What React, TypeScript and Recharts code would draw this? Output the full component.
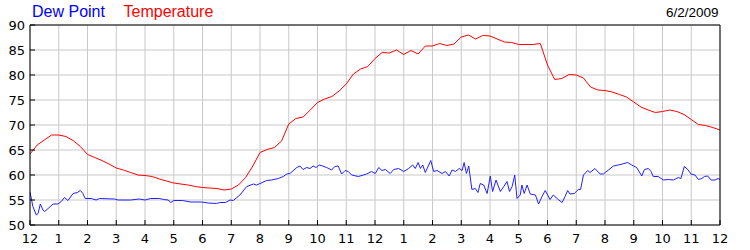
import React from 'react'
import { LineChart, Line, XAxis, YAxis, CartesianGrid } from 'recharts'

// hours since midnight, one tick per hour
const hourTicks = [0, 1, 2, 3, 4, 5, 6, 7, 8, 9, 10, 11, 12, 13, 14, 15, 16, 17, 18, 19, 20, 21, 22, 23, 24]
const hourLabels = ['12', '1', '2', '3', '4', '5', '6', '7', '8', '9', '10', '11', '12', '1', '2', '3', '4', '5', '6', '7', '8', '9', '10', '11', '12']
const degreeTicks = [50, 55, 60, 65, 70, 75, 80, 85, 90]

const chartDate = '6/2/2009'

// temperature, one reading every 15 minutes from midnight to midnight
const tempStepMinutes = 15
const temperature = [
  64.2, 66.0, 67.0, 68.0, 68.0, 67.7, 66.9, 65.7,
  64.1, 63.5, 62.9, 62.2, 61.4, 61.0, 60.5, 60.0,
  59.9, 59.7, 59.2, 58.8, 58.4, 58.2, 58.0, 57.7,
  57.5, 57.4, 57.3, 57.0, 57.2, 58.0, 59.5, 61.8,
  64.5, 65.1, 65.5, 66.8, 70.2, 71.3, 71.6, 73.0,
  74.5, 75.2, 75.7, 76.8, 78.2, 80.2, 81.2, 81.7,
  83.3, 84.5, 84.4, 85.0, 84.1, 84.9, 84.2, 85.8,
  85.8, 86.3, 85.9, 86.2, 87.6, 88.0, 87.2, 87.9,
  87.8, 87.2, 86.6, 86.5, 86.1, 86.1, 86.1, 86.3,
  82.0, 79.1, 79.3, 80.1, 80.0, 79.4, 77.6, 77.0,
  76.9, 76.6, 76.1, 75.6, 74.6, 73.6, 73.0, 72.5,
  72.7, 73.0, 72.7, 72.1, 71.1, 70.1, 69.9, 69.5,
  69.0,
]

// dew point readings (hour of day, degrees)
const dewHours = [
  0.0, 0.1, 0.22, 0.28, 0.36, 0.45, 0.51, 0.63, 0.8, 0.97, 1.09, 1.2, 1.32, 1.5, 1.65, 1.75, 1.84, 1.92,
  2.13, 2.3, 2.42, 2.94, 3.06, 3.5, 3.8, 4.0, 4.2, 4.5, 4.65, 4.8, 4.9, 5.0, 5.3, 5.5, 5.6, 5.96,
  6.2, 6.49, 6.6, 6.8, 6.96, 7.07, 7.3, 7.54, 7.77, 7.88, 8.0, 8.23, 8.4, 8.64, 8.81, 8.93,
  9.04, 9.28, 9.39, 9.5, 9.62, 9.74, 9.85, 9.95, 10.06, 10.18, 10.32, 10.49, 10.6, 10.72, 10.84, 10.96,
  11.07, 11.19, 11.42, 11.6, 11.71, 11.88, 12.01, 12.13, 12.24, 12.36, 12.53, 12.65, 12.82, 13.0,
  13.17, 13.31, 13.4, 13.5, 13.58, 13.66, 13.75, 13.87, 13.94, 14.04, 14.16, 14.33, 14.45, 14.58,
  14.68, 14.8, 14.93, 15.03, 15.1, 15.18, 15.26, 15.37, 15.49, 15.58, 15.66, 15.78, 15.9, 16.01,
  16.09, 16.21, 16.36, 16.48, 16.59, 16.68, 16.77, 16.86, 16.94, 17.05, 17.11, 17.19, 17.29, 17.4,
  17.58, 17.69, 17.81, 17.92, 18.09, 18.2, 18.37, 18.51, 18.61, 18.7, 18.78, 18.93, 19.07, 19.15,
  19.25, 19.4, 19.48, 19.65, 19.83, 19.94, 20.12, 20.29, 20.46, 20.6, 20.79, 20.93, 21.1, 21.28,
  21.37, 21.51, 21.6, 21.68, 21.85, 22.03, 22.2, 22.38, 22.55, 22.64, 22.76, 22.88, 22.99, 23.13,
  23.25, 23.37, 23.46, 23.57, 23.69, 23.83, 23.93, 24.0,
]
const dewPoint = [
  56.6, 53.7, 52.0, 52.3, 54.2, 53.0, 52.7, 53.3, 54.2, 54.2, 54.7, 55.5, 54.9, 56.3, 56.5, 56.9, 56.3, 55.3,
  55.3, 55.0, 55.3, 55.2, 55.0, 55.0, 55.2, 55.0, 55.3, 55.3, 55.1, 55.0, 54.5, 54.9, 54.9, 54.7, 54.6, 54.6,
  54.4, 54.3, 54.5, 54.5, 55.0, 54.9, 56.0, 57.7, 58.2, 58.0, 58.3, 58.9, 59.0, 59.3, 59.7, 60.2,
  60.3, 61.5, 61.8, 61.1, 61.5, 61.3, 61.8, 61.5, 62.0, 61.8, 61.5, 61.0, 61.7, 61.8, 60.2, 60.9,
  60.7, 60.0, 59.7, 60.0, 60.2, 60.7, 60.3, 61.5, 60.9, 61.1, 60.3, 61.1, 61.3, 60.7,
  61.3, 62.0, 61.3, 62.5, 61.3, 62.0, 60.5, 62.0, 62.9, 60.7, 60.9, 60.3, 60.7, 59.8,
  61.0, 60.7, 61.3, 60.9, 62.5, 60.3, 61.8, 57.1, 57.3, 56.5, 58.3, 58.0, 56.3, 59.8,
  56.7, 59.0, 56.7, 57.7, 58.7, 56.7, 57.7, 60.0, 55.3, 56.0, 58.0, 56.3, 58.0, 56.2,
  56.0, 54.2, 55.7, 56.9, 55.1, 56.0, 55.1, 54.5, 55.7, 56.9, 56.2, 56.3, 57.1, 57.1,
  60.0, 60.9, 60.5, 61.3, 60.2, 60.2, 61.0, 61.8, 62.0, 62.2, 62.5, 62.0, 61.5, 59.8,
  61.1, 61.3, 60.7, 59.7, 59.7, 59.0, 59.1, 59.0, 59.5, 59.3, 61.7, 61.1, 60.2, 60.0,
  59.1, 59.3, 59.7, 59.8, 59.0, 59.0, 59.3, 59.1,
]

const tempData = temperature.map((v, i) => ({ t: (i * tempStepMinutes) / 60, v }))
const dewData = dewHours.map((t, i) => ({ t, v: dewPoint[i] }))

const tickFont = { fill: '#000', fontSize: 13, fontFamily: 'DejaVu Sans' }

export default function App() {
  return (
    <div style={{ position: 'absolute', left: 0, top: 0, width: 750, height: 250, background: '#fff' }}>
      <LineChart width={750} height={250} margin={{ top: 0, right: 0, bottom: 0, left: 0 }}>
        <CartesianGrid stroke="#c8c8c8" strokeWidth={1} />
        <XAxis
          dataKey="t"
          type="number"
          domain={[0, 24]}
          ticks={hourTicks}
          tickFormatter={(h: number) => hourLabels[h]}
          interval={0}
          height={25}
          stroke="#000"
          tickSize={-5}
          tickMargin={13.5}
          tick={tickFont}
          allowDataOverflow
        />
        <XAxis
          xAxisId="top"
          orientation="top"
          dataKey="t"
          type="number"
          domain={[0, 24]}
          ticks={hourTicks}
          interval={0}
          height={25}
          stroke="#000"
          tickSize={-5}
          tick={false}
        />
        <YAxis
          domain={[50, 90]}
          ticks={degreeTicks}
          interval={0}
          width={30}
          stroke="#000"
          tickSize={-5}
          tickMargin={10}
          tick={tickFont}
          allowDataOverflow
        />
        <YAxis
          yAxisId="right"
          orientation="right"
          domain={[50, 90]}
          ticks={degreeTicks}
          interval={0}
          width={30}
          stroke="#000"
          tickSize={-5}
          tickMargin={12}
          tick={tickFont}
        />
        <Line
          data={dewData}
          dataKey="v"
          name="Dew Point"
          stroke="#2020ff"
          strokeWidth={1}
          dot={false}
          isAnimationActive={false}
        />
        <Line
          data={tempData}
          dataKey="v"
          name="Temperature"
          stroke="#ff0000"
          strokeWidth={1}
          dot={false}
          isAnimationActive={false}
        />
      </LineChart>
      <svg width={750} height={24} style={{ position: 'absolute', left: 0, top: 0 }}>
        <text x={32} y={17.3} fill="#0000ff" fontSize={16} fontFamily="Liberation Sans">Dew Point</text>
        <text x={123.5} y={17.3} fill="#ff0000" fontSize={16} fontFamily="Liberation Sans">Temperature</text>
        <text x={718.5} y={17.3} fill="#000" fontSize={13.5} fontFamily="Liberation Sans" textAnchor="end">{chartDate}</text>
      </svg>
    </div>
  )
}
